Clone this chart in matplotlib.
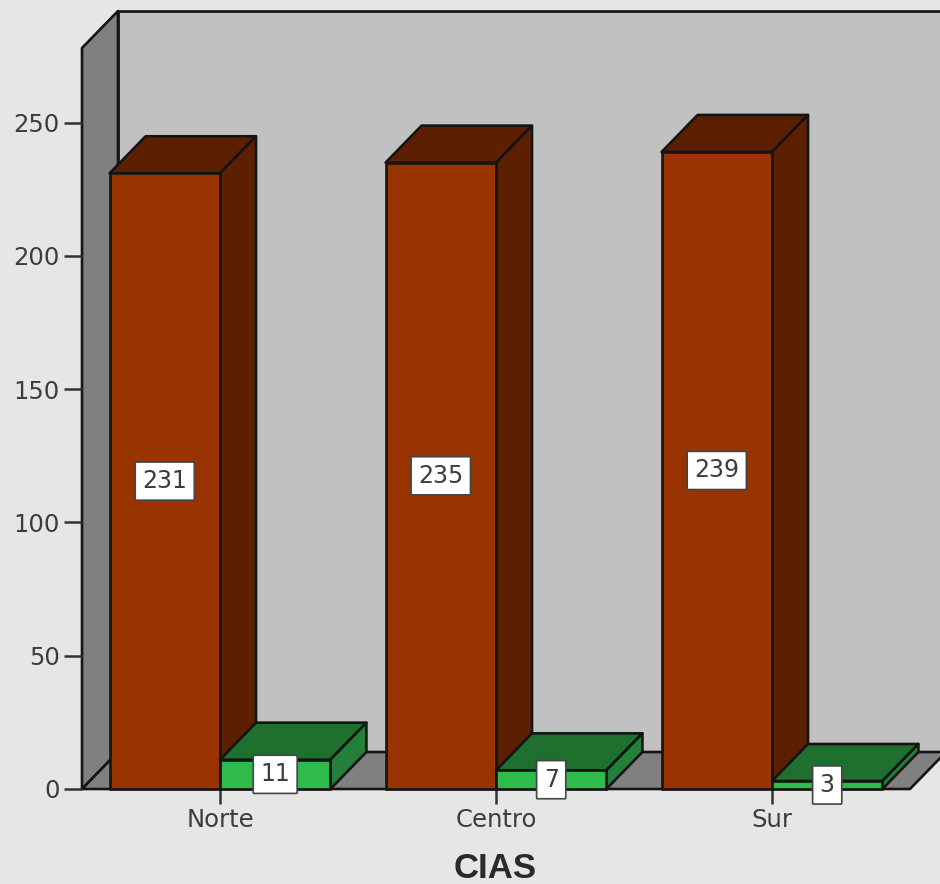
import matplotlib
matplotlib.use("Agg")
import matplotlib.pyplot as plt
from matplotlib.patches import Polygon

plt.rcParams['font.family'] = ['DejaVu Sans']

categories = ['Norte', 'Centro', 'Sur']
brown_values = [231, 235, 239]
green_values = [11, 7, 3]
y_ticks = [0, 50, 100, 150, 200, 250]
x_label = 'CIAS'

BG = '#e6e6e6'
EDGE = '#141414'
TEXT = '#3c3c3c'

W, H = 940, 884
fig = plt.figure(figsize=(W / 100, H / 100), dpi=100, facecolor=BG)
# front plane of the 3D box, the depth is added by hand below
ax = fig.add_axes([82 / W, (H - 789) / H, 828 / W, 741 / H])
ax.set_xlim(-0.5, 2.5)
ax.set_ylim(0, 278)
ax.patch.set_visible(False)
for s in ax.spines.values():
    s.set_visible(False)

bar_w = 0.4
dx = 36 / 276
dy = 37 / (741 / 278)
x0, x1 = ax.get_xlim()
y0, y1 = ax.get_ylim()


def face(points, color, z=1):
    ax.add_patch(Polygon(points, closed=True, facecolor=color, edgecolor=EDGE,
                         linewidth=1.9, joinstyle='round', clip_on=False, zorder=z))


# walls and floor
face([(x0 + dx, y0 + dy), (x1 + dx, y0 + dy), (x1 + dx, y1 + dy), (x0 + dx, y1 + dy)], '#c1c1c1')
face([(x0, y0), (x0 + dx, y0 + dy), (x0 + dx, y1 + dy), (x0, y1)], '#808080')
face([(x0, y0), (x1, y0), (x1 + dx, y0 + dy), (x0 + dx, y0 + dy)], '#808080')


def bar_3d(left, val, front, top, side):
    right = left + bar_w
    face([(left, val), (right, val), (right + dx, val + dy), (left + dx, val + dy)], top, 2)
    face([(right, 0), (right + dx, dy), (right + dx, val + dy), (right, val)], side, 2)
    ax.bar(left, val, bar_w, align='edge', color=front, edgecolor=EDGE, linewidth=1.9,
           clip_on=False, zorder=2)


for i in range(len(categories)):
    bar_3d(i - bar_w, brown_values[i], '#993300', '#5c1f00', '#5c1f00')
    bar_3d(i, green_values[i], '#2fbb4c', '#1f6f2e', '#22803a')

# value labels sit at the middle of each front face
box = dict(boxstyle='round,pad=0.3,rounding_size=0.04', facecolor='white', edgecolor='#444444', linewidth=1.2)
for i in range(len(categories)):
    ax.text(i - bar_w / 2, brown_values[i] / 2, str(brown_values[i]), ha='center', va='center',
            fontsize=17, color=TEXT, bbox=box, zorder=5)
    ax.text(i + bar_w / 2, green_values[i] / 2, str(green_values[i]), ha='center', va='center',
            fontsize=17, color=TEXT, bbox=box, zorder=5)

ax.set_yticks(y_ticks)
ax.set_xticks(range(len(categories)))
ax.set_xticklabels(categories)
ax.tick_params(axis='y', length=13, width=1.8, color='#333333', labelsize=17.5, labelcolor=TEXT, pad=3)
ax.tick_params(axis='x', length=11, width=1.8, color='#333333', labelsize=17.5, labelcolor=TEXT, pad=3)

fig.text(495 / W, (H - 868) / H, x_label, ha='center', va='center', fontsize=25,
         fontweight='bold', family='Liberation Sans', color='#2a2a2a')

fig.savefig('out.png', dpi=100, facecolor=BG)
